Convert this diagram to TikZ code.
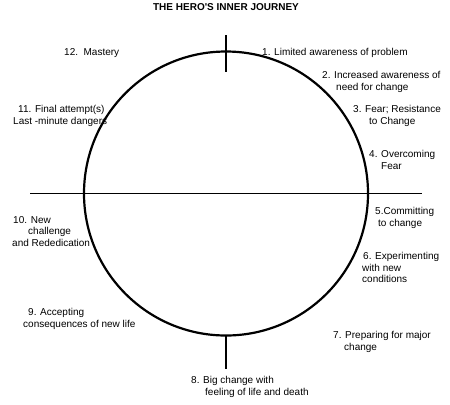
\documentclass[tikz,border=0pt]{standalone}
\usepackage{fontspec}
\setmainfont{Liberation Sans}
\begin{document}
\begin{tikzpicture}[x=1bp,y=-1bp,
  lbl/.style={font=\fontsize{10bp}{11.3bp}\selectfont, align=left, anchor=north west, inner sep=0pt},
  ttl/.style={font=\bfseries\fontsize{10bp}{12bp}\selectfont, anchor=base, inner sep=0pt},
  ring/.style={line width=2.2bp},
  axis/.style={line width=1.7bp}]
\useasboundingbox (0,0) rectangle (450,404);
\node[ttl] (title) at (226,10) {THE HERO\textquotesingle S INNER JOURNEY};
% labels
\node[lbl] (s1) at (262,48.4) {1. Limited awareness of problem};
\node[lbl] (s12) at (64,48.4) {12.\ \ Mastery};
\node[lbl] (s2) at (322,71.4) {2. Increased awareness of\\\hspace*{14bp}need for change};
\node[lbl] (s3) at (353,105.4) {3. Fear; Resistance\\\hspace*{16bp}to Change};
\node[lbl] (s11) at (13,105.4) {\hspace*{5bp}11. Final attempt(s)\\Last -minute dangers};
\node[lbl] (s4) at (369,150.4) {4. Overcoming\\\hspace*{12bp}Fear};
\node[lbl] (s5) at (375,207.4) {5.Committing\\\hspace*{3bp}to change};
\node[lbl] (s10) at (12,216.4) {\hspace*{1bp}10. New\\\hspace*{16bp}challenge\\and Rededication};
\node[lbl] (s6) at (362,252.4) {\hspace*{1bp}6. Experimenting\\with new\\conditions};
\node[lbl] (s9) at (23,308.4) {\hspace*{5bp}9. Accepting\\consequences of new life};
\node[lbl] (s7) at (333,331.4) {7. Preparing for major\\\hspace*{11bp}change};
\node[lbl] (s8) at (191,376.4) {8. Big change with\\\hspace*{14bp}feeling of life and death};
% geometry
\coordinate (c) at (226,193.5);
\coordinate (hl) at (30,193.5);
\coordinate (hr) at (422,193.5);
\coordinate (tt) at (226,35);
\coordinate (tb) at (226,72);
\coordinate (bt) at (226,335);
\coordinate (bb) at (226,369);
\draw[axis] (hl) -- (hr);
\draw[axis] (tt) -- (tb);
\draw[axis] (bt) -- (bb);
\draw[ring] (c) circle[radius=142bp];
\end{tikzpicture}
\end{document}
